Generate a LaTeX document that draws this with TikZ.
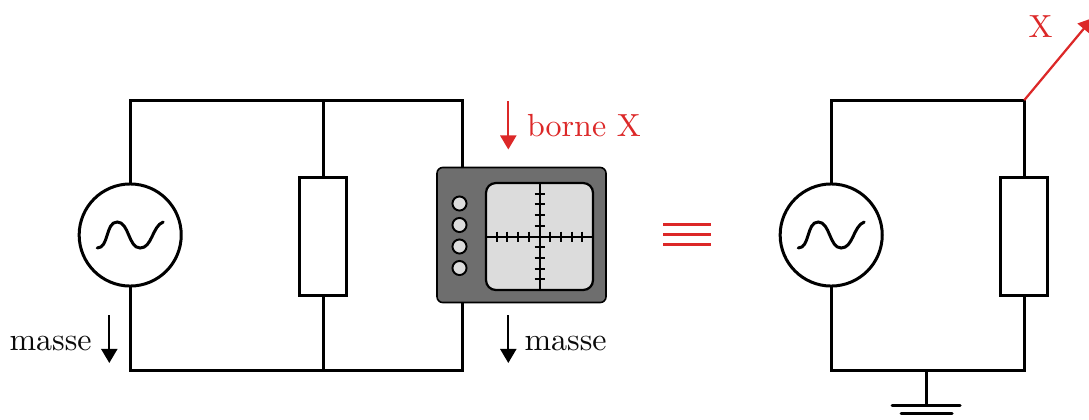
\documentclass[tikz,border=0pt]{standalone}
\usetikzlibrary{arrows.meta}
\definecolor{myred}{RGB}{220,40,40}
\definecolor{scopegray}{RGB}{110,110,110}
\definecolor{screengray}{RGB}{220,220,220}
\tikzset{
  x=0.3125pt,y=-0.3125pt,
  wire/.style={line width=0.9375pt,black},
  srccirc/.style={circle,draw,line width=0.9375pt,minimum size=31.9pt,inner sep=0pt,outer sep=0pt},
  resbox/.style={rectangle,draw,fill=white,line width=0.9375pt,minimum width=14.8pt,minimum height=37pt,inner sep=0pt,outer sep=0pt},
  sigarrow/.style={line width=0.7pt,-{Stealth[length=4.4pt,width=5pt,inset=0pt]}},
  txt/.style={inner sep=0pt,outer sep=0pt,text=black!96},
  scopebody/.style={rectangle,draw,line width=0.5pt,fill=scopegray,rounded corners=1.8pt,minimum width=52.8pt,minimum height=42.2pt,inner sep=0pt,outer sep=0pt},
  scopescreen/.style={rectangle,draw,line width=0.7pt,fill=screengray,rounded corners=3pt,minimum width=33.4pt,minimum height=33.4pt,inner sep=0pt,outer sep=0pt},
  knob/.style={circle,draw,line width=0.6pt,fill=screengray,minimum size=4.4pt,inner sep=0pt,outer sep=0pt},
  tickmark/.style={line width=0.625pt},
  sine/.style={line width=0.9375pt,line cap=round}
}
\newcommand{\sinewave}[1]{%
  \draw[sine] ([shift={(-33,13)}]#1.center) .. controls ([shift={(-21,13)}]#1.center) and ([shift={(-25,-13)}]#1.center) .. ([shift={(-13,-13)}]#1.center)
   .. controls ([shift={(-1,-13)}]#1.center) and ([shift={(-2,13)}]#1.center) .. ([shift={(10,13)}]#1.center)
   .. controls ([shift={(22,13)}]#1.center) and ([shift={(22,-9)}]#1.center) .. ([shift={(33,-13)}]#1.center);}
\begin{document}
\begin{tikzpicture}
\useasboundingbox (0,0) rectangle (1089,419);
% left circuit
\coordinate (tl) at (130.2,100.2);
\coordinate (tm) at (323.2,100.2);
\coordinate (tr) at (462.2,100.2);
\coordinate (bl) at (130.2,370.2);
\coordinate (bm) at (323.2,370.2);
\coordinate (br) at (462.2,370.2);
\node[srccirc] (src) at (130.2,235) {};
\node[resbox] (res) at (323.2,236.5) {};
\node[scopebody] (scope) at (521.5,235) {};
\coordinate (sct) at (scope.north -| tr);
\coordinate (scb) at (scope.south -| br);
\draw[wire] (src.north) -- (tl) -- (tr) -- (sct);
\draw[wire] (src.south) -- (bl) -- (br) -- (scb);
\draw[wire] (tm) -- (res.north);
\draw[wire] (res.south) -- (bm);
\sinewave{src}
% oscilloscope
\node[scopescreen] (screen) at (539.5,236.5) {};
\draw[tickmark] (screen.west) -- (screen.east);
\draw[tickmark] (screen.north) -- (screen.south);
\foreach \d in {-4,-3,-2,-1,1,2,3,4}{
  \draw[tickmark] ([shift={(\d*10.7,-5)}]screen.center) -- ([shift={(\d*10.7,5)}]screen.center);
  \draw[tickmark] ([shift={(-5,\d*10.7)}]screen.center) -- ([shift={(5,\d*10.7)}]screen.center);
}
\node[knob] (k1) at (459.5,203.5) {};
\node[knob] (k2) at (459.5,225) {};
\node[knob] (k3) at (459.5,246.5) {};
\node[knob] (k4) at (459.5,268) {};
% signal arrows
\coordinate (a1) at (508.3,101); \coordinate (a2) at (508.3,149.5);
\draw[sigarrow,myred] (a1) -- (a2);
\node[txt,anchor=base west,text=myred] (bx) at (527,136.2) {borne X};
\coordinate (a3) at (508.3,315); \coordinate (a4) at (508.3,363);
\draw[sigarrow] (a3) -- (a4);
\node[txt,anchor=base west] (m1) at (524.5,350.5) {masse};
\coordinate (a5) at (109.3,315); \coordinate (a6) at (109.3,363);
\draw[sigarrow] (a5) -- (a6);
\node[txt,anchor=base west] (m2) at (9.5,350.5) {masse};
% equivalence
\foreach \y in {224,234,244}{
  \coordinate (e1) at (663,\y); \coordinate (e2) at (711,\y);
  \draw[myred,line width=0.9375pt] (e1) -- (e2);
}
% right circuit
\coordinate (rtl) at (831.2,100.2);
\coordinate (rtr) at (1024.2,100.2);
\coordinate (rbl) at (831.2,370.2);
\coordinate (rbr) at (1024.2,370.2);
\coordinate (gt) at (926.5,370.2);
\coordinate (gb) at (926.5,405.5);
\node[srccirc] (src2) at (831.2,235) {};
\node[resbox] (res2) at (1024.2,236.5) {};
\draw[wire] (src2.north) -- (rtl) -- (rtr) -- (res2.north);
\draw[wire] (src2.south) -- (rbl) -- (rbr) -- (res2.south);
\sinewave{src2}
\draw[wire] (gt) -- (gb);
\coordinate (g1) at (892,405.5); \coordinate (g2) at (960,405.5);
\coordinate (g3) at (901,413.5); \coordinate (g4) at (952,413.5);
\draw[wire,line cap=round] (g1) -- (g2);
\draw[wire,line cap=round] (g3) -- (g4);
% X arrow
\coordinate (xe) at (1092.7,18);
\draw[sigarrow,myred] (rtr) -- (xe);
\node[txt,anchor=base,text=myred] (xl) at (1040.5,37.5) {X};
\end{tikzpicture}
\end{document}
